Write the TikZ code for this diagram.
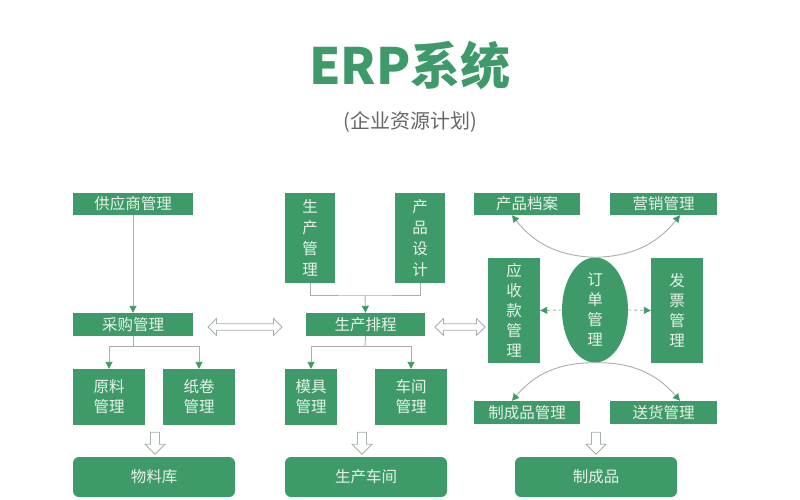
\documentclass[tikz,border=0pt]{standalone}
\usepackage{fontspec}
\setmainfont{Noto Sans CJK SC}
\usetikzlibrary{shapes.arrows,shapes.geometric,arrows.meta}
\definecolor{eg}{HTML}{3F9A6A}
\definecolor{tx}{HTML}{E8F2EA}
\definecolor{ln}{HTML}{A8B0AA}
\tikzset{
 bx/.style={fill=eg,text=tx,inner sep=0pt,font=\fontsize{15.5}{17}\selectfont},
 rb/.style={bx,rounded corners=6pt},
 con/.style={draw=ln,line width=0.9pt,-{Triangle[length=7pt,width=7pt,fill=eg,color=eg]}},
 oarr/.style={single arrow,draw=ln,fill=white,line width=0.8pt,minimum height=22pt,minimum width=20pt,single arrow head extend=3pt,inner sep=2pt,shape border rotate=270},
 darr/.style={double arrow,draw=ln,fill=white,line width=0.8pt,minimum width=17pt,double arrow head extend=3pt,inner sep=1.5pt}
}
\newcommand{\bxat}[6]{\node[#6,minimum width=#3-#1,minimum height=#4-#2,align=center] (#5) at ({(#1+#3)/2},{(#2+#4)/2})}
\begin{document}
\begin{tikzpicture}[x=1pt,y=-1pt]
\useasboundingbox (0,0) rectangle (800,500);
\node[text=eg,font=\fontsize{50}{54}\selectfont\bfseries] (title) at (410,65) {ERP系统};
\node[text=black!60,font=\fontsize{20}{22}\selectfont] (sub) at (410,122) {(企业资源计划)};
% left column
\bxat{73}{193}{193}{215}{gys}{bx} {供应商管理};
\bxat{73}{313}{193}{336}{cg}{bx} {采购管理};
\bxat{73}{369}{145}{425}{yl}{bx,font=\fontsize{15.5}{20}\selectfont} {原料\\管理};
\bxat{163}{369}{235}{425}{zj}{bx,font=\fontsize{15.5}{20}\selectfont} {纸卷\\管理};
\bxat{73}{457}{235}{497}{wlk}{rb} {物料库};
% middle
\bxat{285}{193}{335}{283}{scgl}{bx,font=\fontsize{15.5}{21}\selectfont} {生\\产\\管\\理};
\bxat{395}{193}{445}{283}{cpsj}{bx,font=\fontsize{15.5}{21}\selectfont} {产\\品\\设\\计};
\bxat{306}{313}{425}{336}{scpc}{bx} {生产排程};
\bxat{285}{369}{337}{425}{mj}{bx,font=\fontsize{15.5}{20}\selectfont} {模具\\管理};
\bxat{375}{369}{447}{425}{cj}{bx,font=\fontsize{15.5}{20}\selectfont} {车间\\管理};
\bxat{285}{457}{447}{497}{sccj}{rb} {生产车间};
% right
\bxat{474}{193}{580}{215}{cpda}{bx} {产品档案};
\bxat{610}{193}{717}{215}{yx}{bx} {营销管理};
\bxat{488}{258}{540}{363}{ysk}{bx,font=\fontsize{15.5}{20}\selectfont} {应\\收\\款\\管\\理};
\node[ellipse,fill=eg,text=tx,minimum width=66pt,minimum height=105pt,inner sep=0pt,align=center,font=\fontsize{15.5}{20}\selectfont] (dd) at (595,310) {订\\单\\管\\理};
\bxat{651}{258}{703}{363}{fp}{bx,font=\fontsize{15.5}{20}\selectfont} {发\\票\\管\\理};
\bxat{474}{401}{580}{424}{zcp}{bx} {制成品管理};
\bxat{610}{401}{717}{424}{sh}{bx} {送货管理};
\bxat{515}{457}{677}{497}{zc}{rb} {制成品};
% connectors
\draw[con] (gys.south) -- (cg.north);
\coordinate (c1) at (133,346);
\draw[draw=ln,line width=0.9pt] (cg.south) -- (c1);
\draw[con] (c1) -| (yl.north);
\draw[con] (c1) -| (zj.north);
\coordinate (m1) at (365,295);
\draw[draw=ln,line width=0.9pt] (scgl.south) |- (m1) -| (cpsj.south);
\draw[con] (m1) -- (scpc.north);
\coordinate (m2) at (365,346);
\draw[draw=ln,line width=0.9pt] (scpc.south) -- (m2);
\draw[con] (m2) -| (mj.north);
\draw[con] (m2) -| (cj.north);
\draw[con] (dd.north) to[bend left=25] (cpda.south -| 512,0);
\draw[con] (dd.north) to[bend right=25] (yx.south -| 680,0);
\draw[con] (dd.south) to[bend right=25] (zcp.north -| 512,0);
\draw[con] (dd.south) to[bend left=25] (sh.north -| 680,0);
\draw[con,dashed] (dd.west) -- (ysk.east);
\draw[con,dashed] (dd.east) -- (fp.west);
% open arrows
\node[darr,minimum height=74pt] (d1) at (245,327) {};
\node[darr,minimum height=50pt] (d2) at (460,327) {};
\node[oarr] (a1) at (155,441) {};
\node[oarr] (a2) at (362,441) {};
\node[oarr] (a3) at (596,441) {};
\end{tikzpicture}
\end{document}
